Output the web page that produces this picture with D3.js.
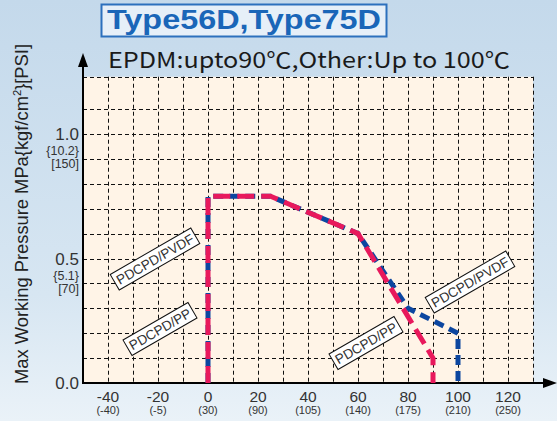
<!DOCTYPE html>
<html>
<head>
<meta charset="utf-8">
<script src="https://cdn.jsdelivr.net/npm/d3@7"></script>
<style>
  html, body { margin: 0; padding: 0; background: #d3e3f0; }
  svg { display: block; }
</style>
</head>
<body>
<script>
// Temperature axis (°C) with °F equivalents shown underneath
const xTicks = [-40, -20, 0, 20, 40, 60, 80, 100, 120];
const xSubLabels = ["(-40)", "(-5)", "(30)", "(90)", "(105)", "(140)", "(175)", "(210)", "(250)"];

// Pressure axis (MPa) with kgf/cm² and PSI equivalents
const yTicks = [0.0, 0.5, 1.0];
const yKgf = ["", "{5.1}", "{10.2}"];
const yPsi = ["", "[70]", "[150]"];

// PDCPD/PP rating curve
const ppTemp = [0, 0, 25, 60, 90, 90];
const ppPress = [0, 0.75, 0.75, 0.6, 0.1, 0];

// PDCPD/PVDF rating curve
const pvdfTemp = [0, 0, 25, 60, 80, 100, 100];
const pvdfPress = [0, 0.75, 0.75, 0.6, 0.3, 0.2, 0];

const W = 557, H = 421;
const svg = d3.select("body").append("svg").attr("width", W).attr("height", H);

const defs = svg.append("defs");
const bg = defs.append("linearGradient").attr("id", "bg").attr("x1", 0).attr("y1", 0).attr("x2", 0).attr("y2", 1);
bg.append("stop").attr("offset", "0%").attr("stop-color", "#c4d9eb");
bg.append("stop").attr("offset", "70%").attr("stop-color", "#d7e6f2");
bg.append("stop").attr("offset", "100%").attr("stop-color", "#eaf2f8");
svg.append("rect").attr("width", W).attr("height", H).attr("fill", "url(#bg)");

const yTop = 1.23;
const x = d3.scaleLinear().domain([-50, 130]).range([83, 533]);
const y = d3.scaleLinear().domain([0, 1.0]).range([383, 134]);

// Plot area
svg.append("rect")
  .attr("x", x(-50)).attr("y", y(yTop))
  .attr("width", x(130) - x(-50)).attr("height", y(0) - y(yTop))
  .attr("fill", "#fff4e7");

// Dashed grid
const grid = svg.append("g").attr("stroke", "#111").attr("stroke-width", 1).attr("stroke-dasharray", "4,3");
grid.selectAll("line.v").data(d3.range(-40, 131, 10)).join("line")
  .attr("x1", d => x(d) + 0.5).attr("x2", d => x(d) + 0.5)
  .attr("y1", y(yTop)).attr("y2", y(0));
grid.selectAll("line.h").data(d3.range(1, 12).map(i => i / 10).concat([yTop])).join("line")
  .attr("x1", x(-50)).attr("x2", x(130))
  .attr("y1", d => Math.round(y(d)) + 0.5).attr("y2", d => Math.round(y(d)) + 0.5);

// Axes with arrowheads
svg.append("line").attr("x1", x(-50)).attr("x2", x(-50)).attr("y1", y(0) + 1).attr("y2", 64)
  .attr("stroke", "#000").attr("stroke-width", 2);
svg.append("path").attr("d", `M${x(-50)},53 L${x(-50) - 5},67 L${x(-50) + 5},67 Z`).attr("fill", "#000");
svg.append("line").attr("x1", x(-50) - 1).attr("x2", 546).attr("y1", y(0)).attr("y2", y(0))
  .attr("stroke", "#000").attr("stroke-width", 2);
svg.append("path").attr("d", `M557,${y(0)} L543,${y(0) - 5} L543,${y(0) + 5} Z`).attr("fill", "#000");

// Rating curves: PVDF underneath, PP on top so shared segments show both colours
const line = d3.line().x(d => x(d[0])).y(d => y(d[1]));
svg.append("path").datum(d3.zip(pvdfTemp, pvdfPress)).attr("d", line)
  .attr("fill", "none").attr("stroke", "#0c46a0").attr("stroke-width", 5)
  .attr("stroke-dasharray", "10,6");
svg.append("path").datum(d3.zip(ppTemp, ppPress)).attr("d", line)
  .attr("fill", "none").attr("stroke", "#e8195c").attr("stroke-width", 5)
  .attr("stroke-dasharray", "17,7");

// Material tags
const tags = [
  { text: "PDCPD/PVDF", cx: 155, cy: 259 },
  { text: "PDCPD/PP", cx: 160, cy: 329 },
  { text: "PDCPD/PVDF", cx: 470, cy: 282 },
  { text: "PDCPD/PP", cx: 366, cy: 343 }
];
tags.forEach(t => {
  const g = svg.append("g").attr("transform", `translate(${t.cx},${t.cy}) rotate(-30)`);
  const txt = g.append("text").attr("text-anchor", "middle").attr("y", 5)
    .attr("font-family", "Liberation Sans, Arial, sans-serif").attr("font-size", 13.5)
    .attr("fill", "#333").text(t.text);
  const w = txt.node().getComputedTextLength() + 6;
  g.insert("rect", "text").attr("x", -w / 2).attr("y", -9).attr("width", w).attr("height", 18)
    .attr("fill", "#fff").attr("stroke", "#111").attr("stroke-width", 1);
});

// Tick labels
const font = "Liberation Sans, Arial, sans-serif";
const xl = svg.append("g").attr("font-family", font).attr("fill", "#333").attr("text-anchor", "middle");
xl.selectAll("text.main").data(xTicks).join("text")
  .attr("x", d => x(d)).attr("y", 402).attr("font-size", 15.5).text(d => d);
xl.selectAll("text.sub").data(xTicks).join("text")
  .attr("x", d => x(d)).attr("y", 414).attr("font-size", 11).text((d, i) => xSubLabels[i]);

const yl = svg.append("g").attr("font-family", font).attr("fill", "#333").attr("text-anchor", "end");
yl.selectAll("text.main").data(yTicks).join("text")
  .attr("x", 79).attr("y", d => y(d) + 6).attr("font-size", 17).text(d => d.toFixed(1));
yl.selectAll("text.kgf").data(yTicks).join("text")
  .attr("x", 79).attr("y", d => y(d) + 21).attr("font-size", 12.5).text((d, i) => yKgf[i]);
yl.selectAll("text.psi").data(yTicks).join("text")
  .attr("x", 79).attr("y", d => y(d) + 34).attr("font-size", 12.5).text((d, i) => yPsi[i]);

// Axis title
const yt = svg.append("text").attr("transform", "translate(28,384) rotate(-90)")
  .attr("font-family", font).attr("font-size", 18).attr("fill", "#222")
  .attr("textLength", 340).attr("lengthAdjust", "spacingAndGlyphs");
yt.append("tspan").text("Max Working Pressure MPa{kgf/cm");
yt.append("tspan").attr("font-size", 11).attr("dy", -7).text("2");
yt.append("tspan").attr("dy", 7).text("}[PSI]");

// Headings
svg.append("rect").attr("x", 101.5).attr("y", 4.5).attr("width", 285).attr("height", 32)
  .attr("fill", "#e6eff8").attr("stroke", "#2c70bd").attr("stroke-width", 2);
svg.append("text").attr("x", 107).attr("y", 29).attr("font-family", font).attr("font-weight", "bold")
  .attr("font-size", 28).attr("fill", "#1a66b8")
  .attr("textLength", 274).attr("lengthAdjust", "spacingAndGlyphs").text("Type56D,Type75D");
svg.append("text").attr("x", 108).attr("y", 68).attr("font-family", "Noto Sans CJK JP, " + font)
  .attr("font-size", 22).attr("fill", "#1a1a1a")
  .attr("textLength", 402).attr("lengthAdjust", "spacingAndGlyphs").text("EPDM:upto90℃,Other:Up to 100℃");
</script>
</body>
</html>
